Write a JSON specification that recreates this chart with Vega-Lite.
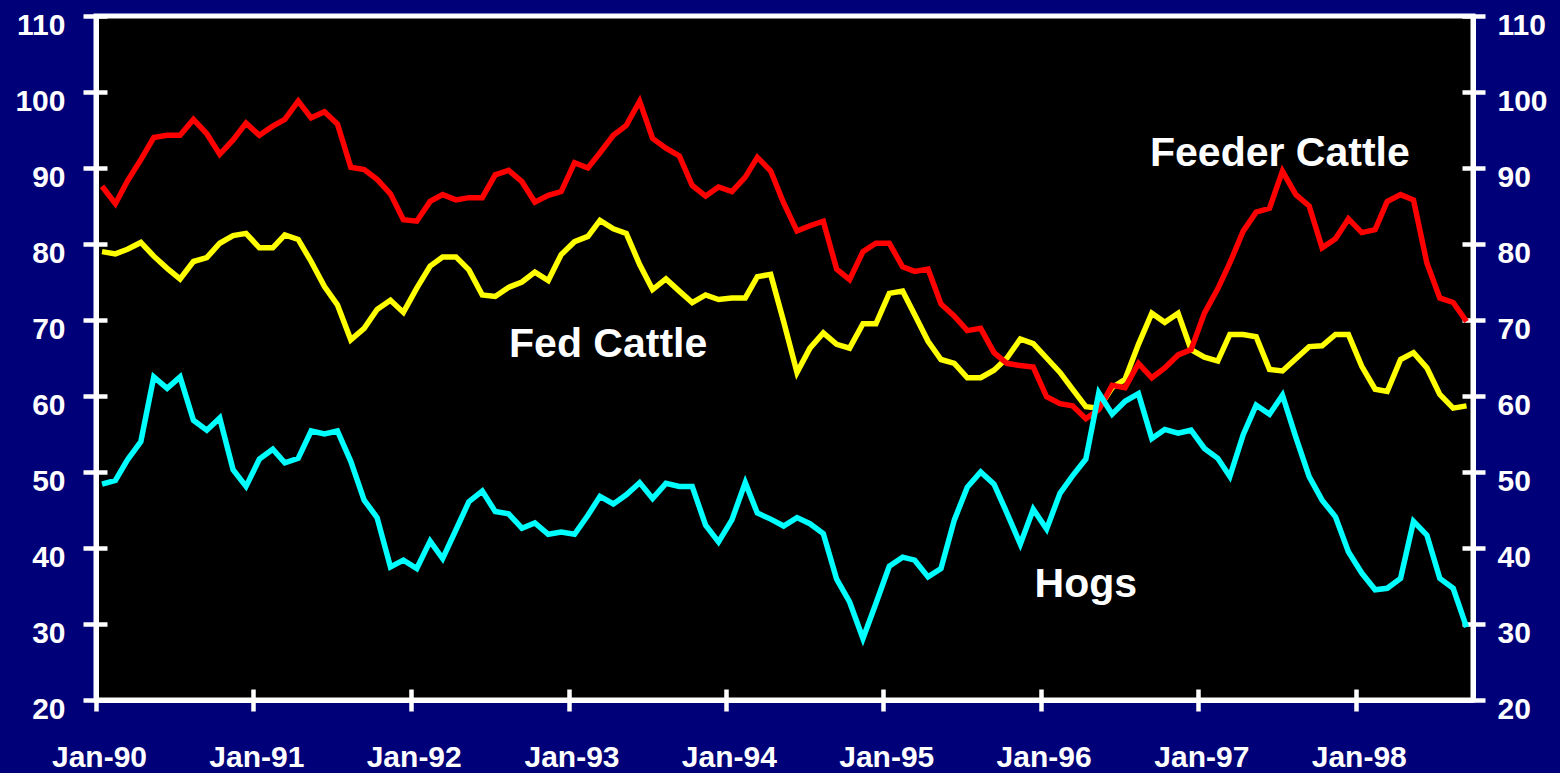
{
  "$schema": "https://vega.github.io/schema/vega-lite/v6.json",
  "width": 1377,
  "height": 684,
  "autosize": {"type": "none"},
  "padding": {"left": 96, "top": 16, "right": 87, "bottom": 73},
  "background": "#000078",
  "config": {
    "view": {"fill": "#000000", "stroke": "#ffffff", "strokeWidth": 5},
    "axis": {"grid": false, "domainColor": "#ffffff", "domainWidth": 5, "tickColor": "#ffffff", "tickWidth": 4.5, "labelColor": "#ffffff", "labelFont": "Liberation Sans", "labelFontWeight": "bold", "labelFontSize": 30, "labelOverlap": false, "labelFlush": false}
  },
  "datasets": {
    "prices": [
      {"series":"Fed Cattle","date":"1990-01-15","value":79.0},{"series":"Fed Cattle","date":"1990-02-15","value":78.7},{"series":"Fed Cattle","date":"1990-03-15","value":79.3},{"series":"Fed Cattle","date":"1990-04-15","value":80.2},{"series":"Fed Cattle","date":"1990-05-15","value":78.4},{"series":"Fed Cattle","date":"1990-06-15","value":76.8},{"series":"Fed Cattle","date":"1990-07-15","value":75.4},{"series":"Fed Cattle","date":"1990-08-15","value":77.7},{"series":"Fed Cattle","date":"1990-09-15","value":78.2},{"series":"Fed Cattle","date":"1990-10-15","value":80.1},{"series":"Fed Cattle","date":"1990-11-15","value":81.1},{"series":"Fed Cattle","date":"1990-12-15","value":81.4},
      {"series":"Fed Cattle","date":"1991-01-15","value":79.5},{"series":"Fed Cattle","date":"1991-02-15","value":79.5},{"series":"Fed Cattle","date":"1991-03-15","value":81.2},{"series":"Fed Cattle","date":"1991-04-15","value":80.6},{"series":"Fed Cattle","date":"1991-05-15","value":77.7},{"series":"Fed Cattle","date":"1991-06-15","value":74.4},{"series":"Fed Cattle","date":"1991-07-15","value":72.0},{"series":"Fed Cattle","date":"1991-08-15","value":67.4},{"series":"Fed Cattle","date":"1991-09-15","value":68.9},{"series":"Fed Cattle","date":"1991-10-15","value":71.4},{"series":"Fed Cattle","date":"1991-11-15","value":72.6},{"series":"Fed Cattle","date":"1991-12-15","value":71.0},
      {"series":"Fed Cattle","date":"1992-01-15","value":74.2},{"series":"Fed Cattle","date":"1992-02-15","value":77.1},{"series":"Fed Cattle","date":"1992-03-15","value":78.3},{"series":"Fed Cattle","date":"1992-04-15","value":78.3},{"series":"Fed Cattle","date":"1992-05-15","value":76.6},{"series":"Fed Cattle","date":"1992-06-15","value":73.3},{"series":"Fed Cattle","date":"1992-07-15","value":73.1},{"series":"Fed Cattle","date":"1992-08-15","value":74.3},{"series":"Fed Cattle","date":"1992-09-15","value":75.0},{"series":"Fed Cattle","date":"1992-10-15","value":76.3},{"series":"Fed Cattle","date":"1992-11-15","value":75.2},{"series":"Fed Cattle","date":"1992-12-15","value":78.6},
      {"series":"Fed Cattle","date":"1993-01-15","value":80.3},{"series":"Fed Cattle","date":"1993-02-15","value":81.0},{"series":"Fed Cattle","date":"1993-03-15","value":83.1},{"series":"Fed Cattle","date":"1993-04-15","value":82.0},{"series":"Fed Cattle","date":"1993-05-15","value":81.4},{"series":"Fed Cattle","date":"1993-06-15","value":77.3},{"series":"Fed Cattle","date":"1993-07-15","value":74.0},{"series":"Fed Cattle","date":"1993-08-15","value":75.4},{"series":"Fed Cattle","date":"1993-09-15","value":73.8},{"series":"Fed Cattle","date":"1993-10-15","value":72.3},{"series":"Fed Cattle","date":"1993-11-15","value":73.3},{"series":"Fed Cattle","date":"1993-12-15","value":72.7},
      {"series":"Fed Cattle","date":"1994-01-15","value":72.9},{"series":"Fed Cattle","date":"1994-02-15","value":72.9},{"series":"Fed Cattle","date":"1994-03-15","value":75.7},{"series":"Fed Cattle","date":"1994-04-15","value":76.0},{"series":"Fed Cattle","date":"1994-05-15","value":69.8},{"series":"Fed Cattle","date":"1994-06-15","value":63.1},{"series":"Fed Cattle","date":"1994-07-15","value":66.3},{"series":"Fed Cattle","date":"1994-08-15","value":68.3},{"series":"Fed Cattle","date":"1994-09-15","value":66.8},{"series":"Fed Cattle","date":"1994-10-15","value":66.3},{"series":"Fed Cattle","date":"1994-11-15","value":69.5},{"series":"Fed Cattle","date":"1994-12-15","value":69.5},
      {"series":"Fed Cattle","date":"1995-01-15","value":73.5},{"series":"Fed Cattle","date":"1995-02-15","value":73.8},{"series":"Fed Cattle","date":"1995-03-15","value":70.7},{"series":"Fed Cattle","date":"1995-04-15","value":67.2},{"series":"Fed Cattle","date":"1995-05-15","value":64.8},{"series":"Fed Cattle","date":"1995-06-15","value":64.3},{"series":"Fed Cattle","date":"1995-07-15","value":62.4},{"series":"Fed Cattle","date":"1995-08-15","value":62.4},{"series":"Fed Cattle","date":"1995-09-15","value":63.4},{"series":"Fed Cattle","date":"1995-10-15","value":65.0},{"series":"Fed Cattle","date":"1995-11-15","value":67.5},{"series":"Fed Cattle","date":"1995-12-15","value":66.9},
      {"series":"Fed Cattle","date":"1996-01-15","value":65.0},{"series":"Fed Cattle","date":"1996-02-15","value":63.1},{"series":"Fed Cattle","date":"1996-03-15","value":60.9},{"series":"Fed Cattle","date":"1996-04-15","value":58.6},{"series":"Fed Cattle","date":"1996-05-15","value":58.4},{"series":"Fed Cattle","date":"1996-06-15","value":61.1},{"series":"Fed Cattle","date":"1996-07-15","value":62.2},{"series":"Fed Cattle","date":"1996-08-15","value":66.8},{"series":"Fed Cattle","date":"1996-09-15","value":70.9},{"series":"Fed Cattle","date":"1996-10-15","value":69.7},{"series":"Fed Cattle","date":"1996-11-15","value":70.9},{"series":"Fed Cattle","date":"1996-12-15","value":66.1},
      {"series":"Fed Cattle","date":"1997-01-15","value":65.1},{"series":"Fed Cattle","date":"1997-02-15","value":64.6},{"series":"Fed Cattle","date":"1997-03-15","value":68.1},{"series":"Fed Cattle","date":"1997-04-15","value":68.1},{"series":"Fed Cattle","date":"1997-05-15","value":67.8},{"series":"Fed Cattle","date":"1997-06-15","value":63.5},{"series":"Fed Cattle","date":"1997-07-15","value":63.3},{"series":"Fed Cattle","date":"1997-08-15","value":64.9},{"series":"Fed Cattle","date":"1997-09-15","value":66.5},{"series":"Fed Cattle","date":"1997-10-15","value":66.6},{"series":"Fed Cattle","date":"1997-11-15","value":68.1},{"series":"Fed Cattle","date":"1997-12-15","value":68.1},
      {"series":"Fed Cattle","date":"1998-01-15","value":63.9},{"series":"Fed Cattle","date":"1998-02-15","value":60.9},{"series":"Fed Cattle","date":"1998-03-15","value":60.6},{"series":"Fed Cattle","date":"1998-04-15","value":64.8},{"series":"Fed Cattle","date":"1998-05-15","value":65.7},{"series":"Fed Cattle","date":"1998-06-15","value":63.7},{"series":"Fed Cattle","date":"1998-07-15","value":60.2},{"series":"Fed Cattle","date":"1998-08-15","value":58.4},{"series":"Fed Cattle","date":"1998-09-15","value":58.7},

      {"series":"Feeder Cattle","date":"1990-01-15","value":87.6},{"series":"Feeder Cattle","date":"1990-02-15","value":85.3},{"series":"Feeder Cattle","date":"1990-03-15","value":88.3},{"series":"Feeder Cattle","date":"1990-04-15","value":91.1},{"series":"Feeder Cattle","date":"1990-05-15","value":94.0},{"series":"Feeder Cattle","date":"1990-06-15","value":94.3},{"series":"Feeder Cattle","date":"1990-07-15","value":94.3},{"series":"Feeder Cattle","date":"1990-08-15","value":96.4},{"series":"Feeder Cattle","date":"1990-09-15","value":94.5},{"series":"Feeder Cattle","date":"1990-10-15","value":91.8},{"series":"Feeder Cattle","date":"1990-11-15","value":93.7},{"series":"Feeder Cattle","date":"1990-12-15","value":95.9},
      {"series":"Feeder Cattle","date":"1991-01-15","value":94.3},{"series":"Feeder Cattle","date":"1991-02-15","value":95.5},{"series":"Feeder Cattle","date":"1991-03-15","value":96.4},{"series":"Feeder Cattle","date":"1991-04-15","value":98.8},{"series":"Feeder Cattle","date":"1991-05-15","value":96.6},{"series":"Feeder Cattle","date":"1991-06-15","value":97.4},{"series":"Feeder Cattle","date":"1991-07-15","value":95.8},{"series":"Feeder Cattle","date":"1991-08-15","value":90.1},{"series":"Feeder Cattle","date":"1991-09-15","value":89.8},{"series":"Feeder Cattle","date":"1991-10-15","value":88.5},{"series":"Feeder Cattle","date":"1991-11-15","value":86.6},{"series":"Feeder Cattle","date":"1991-12-15","value":83.2},
      {"series":"Feeder Cattle","date":"1992-01-15","value":83.0},{"series":"Feeder Cattle","date":"1992-02-15","value":85.6},{"series":"Feeder Cattle","date":"1992-03-15","value":86.5},{"series":"Feeder Cattle","date":"1992-04-15","value":85.8},{"series":"Feeder Cattle","date":"1992-05-15","value":86.1},{"series":"Feeder Cattle","date":"1992-06-15","value":86.1},{"series":"Feeder Cattle","date":"1992-07-15","value":89.1},{"series":"Feeder Cattle","date":"1992-08-15","value":89.7},{"series":"Feeder Cattle","date":"1992-09-15","value":88.2},{"series":"Feeder Cattle","date":"1992-10-15","value":85.5},{"series":"Feeder Cattle","date":"1992-11-15","value":86.4},{"series":"Feeder Cattle","date":"1992-12-15","value":86.9},
      {"series":"Feeder Cattle","date":"1993-01-15","value":90.7},{"series":"Feeder Cattle","date":"1993-02-15","value":90.0},{"series":"Feeder Cattle","date":"1993-03-15","value":92.0},{"series":"Feeder Cattle","date":"1993-04-15","value":94.3},{"series":"Feeder Cattle","date":"1993-05-15","value":95.6},{"series":"Feeder Cattle","date":"1993-06-15","value":98.8},{"series":"Feeder Cattle","date":"1993-07-15","value":93.9},{"series":"Feeder Cattle","date":"1993-08-15","value":92.6},{"series":"Feeder Cattle","date":"1993-09-15","value":91.6},{"series":"Feeder Cattle","date":"1993-10-15","value":87.7},{"series":"Feeder Cattle","date":"1993-11-15","value":86.3},{"series":"Feeder Cattle","date":"1993-12-15","value":87.5},
      {"series":"Feeder Cattle","date":"1994-01-15","value":86.9},{"series":"Feeder Cattle","date":"1994-02-15","value":88.8},{"series":"Feeder Cattle","date":"1994-03-15","value":91.4},{"series":"Feeder Cattle","date":"1994-04-15","value":89.6},{"series":"Feeder Cattle","date":"1994-05-15","value":85.4},{"series":"Feeder Cattle","date":"1994-06-15","value":81.7},{"series":"Feeder Cattle","date":"1994-07-15","value":82.4},{"series":"Feeder Cattle","date":"1994-08-15","value":83.0},{"series":"Feeder Cattle","date":"1994-09-15","value":76.7},{"series":"Feeder Cattle","date":"1994-10-15","value":75.3},{"series":"Feeder Cattle","date":"1994-11-15","value":79.0},{"series":"Feeder Cattle","date":"1994-12-15","value":80.1},
      {"series":"Feeder Cattle","date":"1995-01-15","value":80.1},{"series":"Feeder Cattle","date":"1995-02-15","value":77.0},{"series":"Feeder Cattle","date":"1995-03-15","value":76.4},{"series":"Feeder Cattle","date":"1995-04-15","value":76.7},{"series":"Feeder Cattle","date":"1995-05-15","value":72.1},{"series":"Feeder Cattle","date":"1995-06-15","value":70.5},{"series":"Feeder Cattle","date":"1995-07-15","value":68.6},{"series":"Feeder Cattle","date":"1995-08-15","value":68.9},{"series":"Feeder Cattle","date":"1995-09-15","value":65.7},{"series":"Feeder Cattle","date":"1995-10-15","value":64.3},{"series":"Feeder Cattle","date":"1995-11-15","value":64.0},{"series":"Feeder Cattle","date":"1995-12-15","value":63.8},
      {"series":"Feeder Cattle","date":"1996-01-15","value":59.9},{"series":"Feeder Cattle","date":"1996-02-15","value":59.0},{"series":"Feeder Cattle","date":"1996-03-15","value":58.7},{"series":"Feeder Cattle","date":"1996-04-15","value":57.0},{"series":"Feeder Cattle","date":"1996-05-15","value":58.2},{"series":"Feeder Cattle","date":"1996-06-15","value":61.4},{"series":"Feeder Cattle","date":"1996-07-15","value":61.1},{"series":"Feeder Cattle","date":"1996-08-15","value":64.3},{"series":"Feeder Cattle","date":"1996-09-15","value":62.4},{"series":"Feeder Cattle","date":"1996-10-15","value":63.7},{"series":"Feeder Cattle","date":"1996-11-15","value":65.4},{"series":"Feeder Cattle","date":"1996-12-15","value":66.1},
      {"series":"Feeder Cattle","date":"1997-01-15","value":70.9},{"series":"Feeder Cattle","date":"1997-02-15","value":74.1},{"series":"Feeder Cattle","date":"1997-03-15","value":77.5},{"series":"Feeder Cattle","date":"1997-04-15","value":81.7},{"series":"Feeder Cattle","date":"1997-05-15","value":84.2},{"series":"Feeder Cattle","date":"1997-06-15","value":84.7},{"series":"Feeder Cattle","date":"1997-07-15","value":89.6},{"series":"Feeder Cattle","date":"1997-08-15","value":86.5},{"series":"Feeder Cattle","date":"1997-09-15","value":85.0},{"series":"Feeder Cattle","date":"1997-10-15","value":79.5},{"series":"Feeder Cattle","date":"1997-11-15","value":80.7},{"series":"Feeder Cattle","date":"1997-12-15","value":83.3},
      {"series":"Feeder Cattle","date":"1998-01-15","value":81.5},{"series":"Feeder Cattle","date":"1998-02-15","value":81.9},{"series":"Feeder Cattle","date":"1998-03-15","value":85.6},{"series":"Feeder Cattle","date":"1998-04-15","value":86.5},{"series":"Feeder Cattle","date":"1998-05-15","value":85.8},{"series":"Feeder Cattle","date":"1998-06-15","value":77.5},{"series":"Feeder Cattle","date":"1998-07-15","value":72.9},{"series":"Feeder Cattle","date":"1998-08-15","value":72.3},{"series":"Feeder Cattle","date":"1998-09-15","value":69.8},

      {"series":"Hogs","date":"1990-01-15","value":48.4},{"series":"Hogs","date":"1990-02-15","value":48.9},{"series":"Hogs","date":"1990-03-15","value":51.6},{"series":"Hogs","date":"1990-04-15","value":54.0},{"series":"Hogs","date":"1990-05-15","value":62.5},{"series":"Hogs","date":"1990-06-15","value":61.0},{"series":"Hogs","date":"1990-07-15","value":62.5},{"series":"Hogs","date":"1990-08-15","value":56.8},{"series":"Hogs","date":"1990-09-15","value":55.5},{"series":"Hogs","date":"1990-10-15","value":57.1},{"series":"Hogs","date":"1990-11-15","value":50.3},{"series":"Hogs","date":"1990-12-15","value":48.1},
      {"series":"Hogs","date":"1991-01-15","value":51.7},{"series":"Hogs","date":"1991-02-15","value":53.0},{"series":"Hogs","date":"1991-03-15","value":51.2},{"series":"Hogs","date":"1991-04-15","value":51.8},{"series":"Hogs","date":"1991-05-15","value":55.4},{"series":"Hogs","date":"1991-06-15","value":55.0},{"series":"Hogs","date":"1991-07-15","value":55.4},{"series":"Hogs","date":"1991-08-15","value":51.4},{"series":"Hogs","date":"1991-09-15","value":46.3},{"series":"Hogs","date":"1991-10-15","value":44.0},{"series":"Hogs","date":"1991-11-15","value":37.5},{"series":"Hogs","date":"1991-12-15","value":38.4},
      {"series":"Hogs","date":"1992-01-15","value":37.3},{"series":"Hogs","date":"1992-02-15","value":40.9},{"series":"Hogs","date":"1992-03-15","value":38.6},{"series":"Hogs","date":"1992-04-15","value":42.4},{"series":"Hogs","date":"1992-05-15","value":46.1},{"series":"Hogs","date":"1992-06-15","value":47.5},{"series":"Hogs","date":"1992-07-15","value":44.8},{"series":"Hogs","date":"1992-08-15","value":44.5},{"series":"Hogs","date":"1992-09-15","value":42.6},{"series":"Hogs","date":"1992-10-15","value":43.3},{"series":"Hogs","date":"1992-11-15","value":41.8},{"series":"Hogs","date":"1992-12-15","value":42.1},
      {"series":"Hogs","date":"1993-01-15","value":41.8},{"series":"Hogs","date":"1993-02-15","value":44.3},{"series":"Hogs","date":"1993-03-15","value":46.8},{"series":"Hogs","date":"1993-04-15","value":45.8},{"series":"Hogs","date":"1993-05-15","value":47.0},{"series":"Hogs","date":"1993-06-15","value":48.6},{"series":"Hogs","date":"1993-07-15","value":46.5},{"series":"Hogs","date":"1993-08-15","value":48.5},{"series":"Hogs","date":"1993-09-15","value":48.1},{"series":"Hogs","date":"1993-10-15","value":48.1},{"series":"Hogs","date":"1993-11-15","value":43.0},{"series":"Hogs","date":"1993-12-15","value":40.8},
      {"series":"Hogs","date":"1994-01-15","value":43.7},{"series":"Hogs","date":"1994-02-15","value":48.6},{"series":"Hogs","date":"1994-03-15","value":44.6},{"series":"Hogs","date":"1994-04-15","value":43.8},{"series":"Hogs","date":"1994-05-15","value":42.9},{"series":"Hogs","date":"1994-06-15","value":44.0},{"series":"Hogs","date":"1994-07-15","value":43.2},{"series":"Hogs","date":"1994-08-15","value":41.9},{"series":"Hogs","date":"1994-09-15","value":35.9},{"series":"Hogs","date":"1994-10-15","value":32.9},{"series":"Hogs","date":"1994-11-15","value":28.1},{"series":"Hogs","date":"1994-12-15","value":32.7},
      {"series":"Hogs","date":"1995-01-15","value":37.6},{"series":"Hogs","date":"1995-02-15","value":38.8},{"series":"Hogs","date":"1995-03-15","value":38.4},{"series":"Hogs","date":"1995-04-15","value":36.2},{"series":"Hogs","date":"1995-05-15","value":37.3},{"series":"Hogs","date":"1995-06-15","value":43.7},{"series":"Hogs","date":"1995-07-15","value":48.0},{"series":"Hogs","date":"1995-08-15","value":50.0},{"series":"Hogs","date":"1995-09-15","value":48.4},{"series":"Hogs","date":"1995-10-15","value":44.6},{"series":"Hogs","date":"1995-11-15","value":40.5},{"series":"Hogs","date":"1995-12-15","value":45.1},
      {"series":"Hogs","date":"1996-01-15","value":42.5},{"series":"Hogs","date":"1996-02-15","value":47.2},{"series":"Hogs","date":"1996-03-15","value":49.5},{"series":"Hogs","date":"1996-04-15","value":51.7},{"series":"Hogs","date":"1996-05-15","value":60.4},{"series":"Hogs","date":"1996-06-15","value":57.6},{"series":"Hogs","date":"1996-07-15","value":59.3},{"series":"Hogs","date":"1996-08-15","value":60.3},{"series":"Hogs","date":"1996-09-15","value":54.4},{"series":"Hogs","date":"1996-10-15","value":55.6},{"series":"Hogs","date":"1996-11-15","value":55.1},{"series":"Hogs","date":"1996-12-15","value":55.5},
      {"series":"Hogs","date":"1997-01-15","value":53.1},{"series":"Hogs","date":"1997-02-15","value":51.8},{"series":"Hogs","date":"1997-03-15","value":49.4},{"series":"Hogs","date":"1997-04-15","value":54.9},{"series":"Hogs","date":"1997-05-15","value":58.8},{"series":"Hogs","date":"1997-06-15","value":57.6},{"series":"Hogs","date":"1997-07-15","value":60.1},{"series":"Hogs","date":"1997-08-15","value":54.6},{"series":"Hogs","date":"1997-09-15","value":49.4},{"series":"Hogs","date":"1997-10-15","value":46.3},{"series":"Hogs","date":"1997-11-15","value":44.1},{"series":"Hogs","date":"1997-12-15","value":39.5},
      {"series":"Hogs","date":"1998-01-15","value":36.7},{"series":"Hogs","date":"1998-02-15","value":34.5},{"series":"Hogs","date":"1998-03-15","value":34.7},{"series":"Hogs","date":"1998-04-15","value":36.0},{"series":"Hogs","date":"1998-05-15","value":43.5},{"series":"Hogs","date":"1998-06-15","value":41.7},{"series":"Hogs","date":"1998-07-15","value":36.0},{"series":"Hogs","date":"1998-08-15","value":34.7},{"series":"Hogs","date":"1998-09-15","value":29.6}
    ],
    "labels": [
      {"label":"Feeder Cattle","date":"1997-07-09","value":90.3},
      {"label":"Fed Cattle","date":"1993-04-03","value":65.1},
      {"label":"Hogs","date":"1996-04-15","value":33.5}
    ]
  },
  "resolve": {"axis": {"x": "independent", "y": "independent"}},
  "layer": [
    {
      "data": {"name": "prices"},
      "transform": [{"filter": "datum.series === 'Fed Cattle'"}],
      "mark": {"type": "line", "color": "#ffff00", "strokeWidth": 5.5},
      "encoding": {
        "x": {"field": "date", "type": "temporal", "scale": {"type": "utc", "domain": [631152000000, 907113600000]},
              "axis": {"orient": "bottom", "title": null, "values": [631152000000, 662688000000, 694224000000, 725846400000, 757382400000, 788918400000, 820454400000, 852076800000, 883612800000], "labelExpr": "utcFormat(datum.value, '%b-%y')", "tickSize": 11, "labelPadding": 31, "labelOffset": 3}},
        "y": {"field": "value", "type": "quantitative", "scale": {"domain": [20, 110], "nice": false, "zero": false},
              "axis": {"orient": "left", "title": null, "values": [20, 30, 40, 50, 60, 70, 80, 90, 100, 110], "tickSize": 13, "labelPadding": 18, "labelOffset": 9}}
      }
    },
    {
      "data": {"name": "prices"},
      "transform": [{"filter": "datum.series === 'Feeder Cattle'"}],
      "mark": {"type": "line", "color": "#ff0000", "strokeWidth": 5.5},
      "encoding": {
        "x": {"field": "date", "type": "temporal", "scale": {"type": "utc", "domain": [631152000000, 907113600000]}, "axis": null},
        "y": {"field": "value", "type": "quantitative", "scale": {"domain": [20, 110], "nice": false, "zero": false},
              "axis": {"orient": "right", "title": null, "values": [20, 30, 40, 50, 60, 70, 80, 90, 100, 110], "tickSize": 12, "labelPadding": 12, "labelOffset": 9}}
      }
    },
    {
      "data": {"name": "prices"},
      "transform": [{"filter": "datum.series === 'Hogs'"}],
      "mark": {"type": "line", "color": "#00ffff", "strokeWidth": 5.5},
      "encoding": {
        "x": {"field": "date", "type": "temporal", "scale": {"type": "utc", "domain": [631152000000, 907113600000]},
              "axis": {"orient": "bottom", "title": null, "values": [631152000000, 662688000000, 694224000000, 725846400000, 757382400000, 788918400000, 820454400000, 852076800000, 883612800000], "labels": false, "domain": false, "tickSize": 11, "offset": -11}},
        "y": {"field": "value", "type": "quantitative", "scale": {"domain": [20, 110], "nice": false, "zero": false},
              "axis": {"orient": "left", "title": null, "values": [20, 30, 40, 50, 60, 70, 80, 90, 100, 110], "labels": false, "domain": false, "tickSize": 11, "offset": -11}}
      }
    },
    {
      "data": {"name": "labels"},
      "mark": {"type": "text", "font": "Liberation Sans", "fontWeight": "bold", "fontSize": 41, "color": "#ffffff", "align": "center", "baseline": "alphabetic"},
      "encoding": {
        "x": {"field": "date", "type": "temporal", "scale": {"type": "utc", "domain": [631152000000, 907113600000]}, "axis": null},
        "y": {"field": "value", "type": "quantitative", "scale": {"domain": [20, 110], "nice": false, "zero": false},
              "axis": {"orient": "right", "title": null, "values": [20, 30, 40, 50, 60, 70, 80, 90, 100, 110], "labels": false, "domain": false, "tickSize": 11, "offset": -11}},
        "text": {"field": "label"}
      }
    }
  ]
}
